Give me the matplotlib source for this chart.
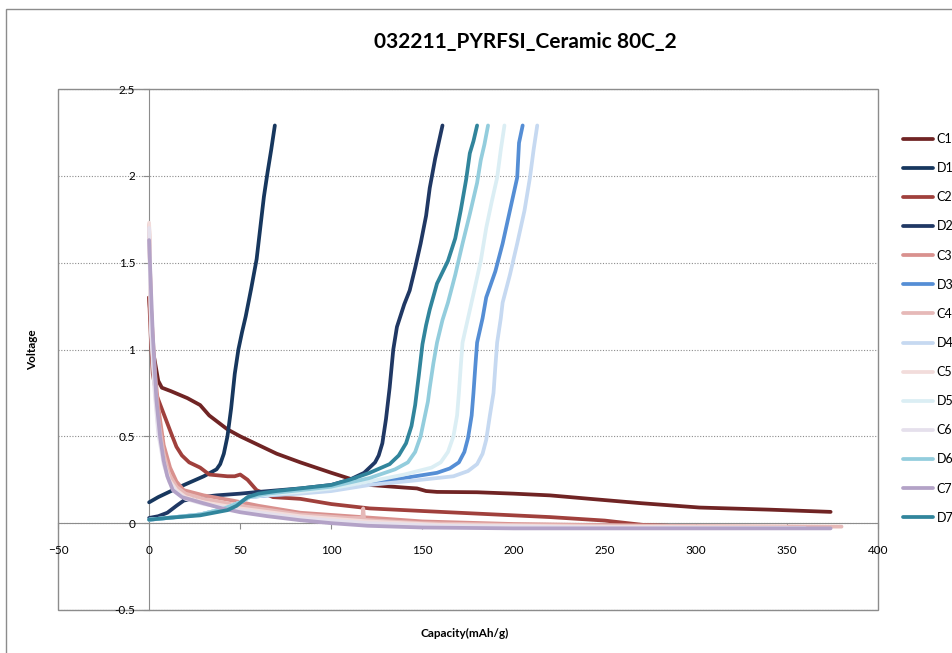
import matplotlib.pyplot as plt
from matplotlib.patches import Rectangle

plt.rcParams['font.family'] = ['Lato', 'DejaVu Sans']

# --- data (capacity mAh/g, voltage V) ---
c1_x = [0, 2, 5, 7, 12, 21, 28, 33, 38, 43, 50, 60, 70, 83, 100, 115, 121, 140, 147, 152, 158, 180, 200, 220, 242, 270, 302, 340, 374]
c1_y = [1.3, 1.0, 0.82, 0.78, 0.76, 0.72, 0.68, 0.62, 0.58, 0.54, 0.5, 0.45, 0.4, 0.35, 0.29, 0.24, 0.22, 0.205, 0.2, 0.185, 0.18, 0.178, 0.17, 0.16, 0.14, 0.115, 0.09, 0.078, 0.065]

d1_x = [0, 5, 17, 30, 37, 39, 41, 43, 45, 47, 49, 51, 53, 56, 59, 61, 63, 65, 67, 69]
d1_y = [0.12, 0.15, 0.21, 0.27, 0.31, 0.34, 0.4, 0.5, 0.66, 0.86, 1.0, 1.1, 1.19, 1.35, 1.52, 1.7, 1.88, 2.02, 2.15, 2.29]

c2_x = [0, 1, 2, 4, 8, 12, 15, 18, 22, 28, 33, 43, 47, 50, 54, 59, 68, 83, 100, 121, 150, 180, 220, 250, 271, 285]
c2_y = [1.3, 1.05, 0.86, 0.74, 0.63, 0.52, 0.44, 0.39, 0.35, 0.32, 0.28, 0.27, 0.27, 0.28, 0.25, 0.19, 0.15, 0.14, 0.11, 0.085, 0.07, 0.055, 0.035, 0.015, -0.01, -0.015]

c3_x = [0, 1, 3, 5, 8, 11.5, 15, 19, 30, 46, 60, 83, 110, 150, 200, 280]
c3_y = [1.7, 1.25, 0.9, 0.67, 0.45, 0.32, 0.24, 0.19, 0.16, 0.13, 0.1, 0.06, 0.04, 0.01, -0.005, -0.015]

d2_x = [0, 5, 10, 15, 19, 28, 37, 50, 60, 83, 100, 110, 118, 121, 124, 126, 128, 130, 132, 134, 136, 140, 143, 146, 149, 152, 154, 157, 161]
d2_y = [0.03, 0.04, 0.06, 0.1, 0.13, 0.15, 0.16, 0.17, 0.18, 0.2, 0.22, 0.25, 0.29, 0.32, 0.35, 0.39, 0.46, 0.6, 0.78, 1.0, 1.13, 1.26, 1.34, 1.47, 1.61, 1.77, 1.93, 2.1, 2.29]

d3_x = [0, 10, 28, 40, 50, 55, 65, 83, 100, 121, 140, 158, 165, 170, 173, 175, 177, 178, 179, 180, 183, 185, 190, 194, 198, 202, 203, 205]
d3_y = [0.02, 0.03, 0.05, 0.08, 0.12, 0.15, 0.16, 0.175, 0.19, 0.23, 0.26, 0.29, 0.315, 0.35, 0.41, 0.49, 0.62, 0.75, 0.9, 1.04, 1.18, 1.3, 1.45, 1.61, 1.8, 1.99, 2.19, 2.29]

c4_x = [0, 1, 3, 5, 8, 11, 15, 20, 30, 50, 83, 110, 117, 117.5, 118, 125, 150, 200, 280, 380]
c4_y = [1.72, 1.2, 0.85, 0.6, 0.4, 0.28, 0.21, 0.17, 0.14, 0.1, 0.05, 0.03, 0.03, 0.085, 0.02, 0.015, 0.0, -0.01, -0.015, -0.02]

d4_x = [0, 10, 28, 40, 50, 55, 65, 83, 100, 121, 145, 167, 175, 180, 183, 185, 187, 189, 190, 191, 193, 194, 198, 202, 206, 209, 211, 213]
d4_y = [0.02, 0.03, 0.05, 0.08, 0.12, 0.15, 0.16, 0.17, 0.185, 0.22, 0.245, 0.27, 0.3, 0.34, 0.4, 0.48, 0.62, 0.75, 0.9, 1.04, 1.18, 1.27, 1.43, 1.61, 1.8, 1.99, 2.15, 2.29]

c5_x = [0, 1, 3, 5, 8, 11, 15, 20, 30, 50, 83, 120, 160, 250, 350]
c5_y = [1.73, 1.15, 0.8, 0.55, 0.36, 0.25, 0.19, 0.15, 0.12, 0.085, 0.04, 0.01, -0.01, -0.02, -0.025]

d5_x = [0, 10, 28, 40, 50, 55, 65, 83, 100, 121, 140, 155, 160, 164, 167, 169, 170, 171, 172, 175, 178, 182, 185, 188, 191, 193, 195]
d5_y = [0.02, 0.03, 0.05, 0.08, 0.12, 0.15, 0.165, 0.18, 0.2, 0.24, 0.28, 0.32, 0.35, 0.41, 0.5, 0.62, 0.75, 0.9, 1.04, 1.18, 1.32, 1.51, 1.7, 1.85, 1.99, 2.15, 2.29]

c6_x = [0, 1, 3, 5, 8, 11, 15, 20, 30, 50, 83, 120, 160, 250, 360]
c6_y = [1.7, 1.1, 0.76, 0.52, 0.34, 0.24, 0.18, 0.14, 0.11, 0.075, 0.03, 0.0, -0.015, -0.025, -0.028]

d6_x = [0, 10, 28, 40, 50, 55, 65, 83, 100, 121, 135, 142, 146, 149, 151, 153, 154, 156, 158, 161, 164, 168, 172, 176, 180, 182, 184, 186]
d6_y = [0.02, 0.03, 0.05, 0.08, 0.12, 0.15, 0.17, 0.19, 0.21, 0.26, 0.31, 0.35, 0.41, 0.5, 0.6, 0.7, 0.78, 0.92, 1.04, 1.17, 1.27, 1.43, 1.61, 1.78, 1.96, 2.09, 2.18, 2.29]

c7_x = [0, 1, 2, 4, 6, 8, 10, 13, 18, 28, 40, 50, 65, 83, 100, 120, 150, 200, 300, 374]
c7_y = [1.63, 1.35, 1.09, 0.71, 0.5, 0.36, 0.27, 0.19, 0.15, 0.12, 0.085, 0.063, 0.04, 0.017, 0.0, -0.015, -0.025, -0.03, -0.03, -0.03]

d7_x = [0, 10, 28, 43, 48, 51, 54, 60, 70, 83, 100, 110, 121, 132, 137, 141, 144, 146, 148, 150, 152, 154, 158, 164, 168, 171, 174, 176, 178, 180]
d7_y = [0.02, 0.03, 0.045, 0.075, 0.1, 0.125, 0.15, 0.17, 0.185, 0.2, 0.22, 0.25, 0.29, 0.34, 0.39, 0.46, 0.56, 0.68, 0.85, 1.03, 1.14, 1.23, 1.38, 1.51, 1.64, 1.8, 1.98, 2.13, 2.2, 2.29]

labels = ['C1', 'D1', 'C2', 'D2', 'C3', 'D3', 'C4', 'D4', 'C5', 'D5', 'C6', 'D6', 'C7', 'D7']
xs = [c1_x, d1_x, c2_x, d2_x, c3_x, d3_x, c4_x, d4_x, c5_x, d5_x, c6_x, d6_x, c7_x, d7_x]
ys = [c1_y, d1_y, c2_y, d2_y, c3_y, d3_y, c4_y, d4_y, c5_y, d5_y, c6_y, d6_y, c7_y, d7_y]
colors = ['#702424', '#17375E', '#A0403C', '#203864', '#D9918E', '#558ED5', '#E6B9B8',
          '#C6D9F1', '#F2DCDB', '#DBEEF4', '#E5E0EC', '#93CDDD', '#B3A2C7', '#31859C']

W, H = 953, 653
fig = plt.figure(figsize=(W / 100, H / 100), dpi=100)
ax = fig.add_axes([58 / W, 1 - 610 / H, 820 / W, 521 / H])

for x, y, lab, col in zip(xs, ys, labels, colors):
    ax.plot(x, y, color=col, lw=2.7, label=lab, solid_joinstyle='round', solid_capstyle='round')

ax.set_xlim(-50, 400)
ax.set_ylim(-0.5, 2.5)
ax.set_xticks(range(-50, 401, 50))
ax.set_yticks([-0.5, 0, 0.5, 1, 1.5, 2, 2.5])
ax.set_yticklabels(['-0.5', '0', '0.5', '1', '1.5', '2', '2.5'])

# Excel style axes crossing at zero, gray plot-area box
ax.spines['left'].set_position(('data', 0))
ax.spines['bottom'].set_position(('data', 0))
ax.spines['top'].set_visible(False)
ax.spines['right'].set_visible(False)
for s in ['left', 'bottom']:
    ax.spines[s].set_color('#8c8c8c')
    ax.spines[s].set_zorder(0.5)
ax.add_patch(Rectangle((0, 0), 1, 1, transform=ax.transAxes, fill=False,
                       edgecolor='#8c8c8c', lw=1, clip_on=False, zorder=0))
ax.yaxis.grid(True, linestyle=(0, (1, 1.5)), color='#8c8c8c', lw=0.8)
ax.set_axisbelow(True)
ax.tick_params(axis='both', colors='#8c8c8c', labelcolor='black', labelsize=8.5, length=4)
ax.tick_params(axis='x', pad=12)
ax.tick_params(axis='y', pad=6)

fig.text(465 / W, 1 - 633 / H, 'Capacity(mAh/g)', ha='center', va='center', fontsize=8.5, fontweight='bold')
fig.text(33 / W, 1 - 350 / H, 'Voltage', ha='center', va='center', rotation=90, fontsize=8.5, fontweight='bold')
fig.text(525 / W, 1 - 42 / H, '032211_PYRFSI_Ceramic 80C_2', ha='center', va='center', fontsize=15, fontweight='bold')

fig.legend(loc='upper left', bbox_to_anchor=(903 / W, 1 - 133 / H), frameon=False, fontsize=9,
           handlelength=2.4, handletextpad=0.3, labelspacing=1.37, borderaxespad=0, borderpad=0)

# outer chart border (only top/left visible in crop)
fig.add_artist(Rectangle((6 / W, -0.1), 1.2, 1 - 9 / H + 0.1, transform=fig.transFigure,
                         fill=False, edgecolor='#8c8c8c', lw=1))

fig.savefig('out.png', dpi=100)
